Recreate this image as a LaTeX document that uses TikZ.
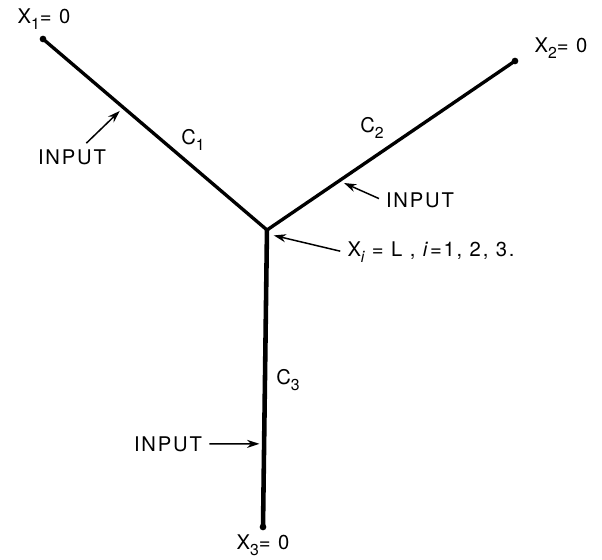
\documentclass[tikz,border=0pt]{standalone}
\usepackage{fontspec}
\setmainfont{TeX Gyre Heros}[LetterSpace=9]
\usetikzlibrary{arrows.meta,calc}
\newcommand{\lowidx}[1]{\raisebox{-.6ex}{\small#1}}

\begin{document}
\begin{tikzpicture}[x=.02cm,y=-.02cm,branch/.style={line width=1.9pt,line join=miter},stem/.style={line width=2.6pt},endpt/.style={circle,fill,inner sep=0pt,minimum size=3.8pt},inarrow/.style={line width=.85pt,-{Stealth[length=7pt,width=4.6pt]},shorten <=2pt,shorten >=1pt},lbl/.style={font=\fontsize{11.5}{13}\selectfont,inner sep=2pt}]
\useasboundingbox(0,0)rectangle(602,560);
\node[endpt](e1)at(43,39){};\node[endpt](e2)at(515,61){};\node[endpt](e3)at(263,527){};\coordinate(j)at(267,230);
\draw[stem]($(j)+(0,-2)$)--(e3.center);\draw[branch](e1.center)--(j)--(e2.center);
\node[lbl](lx1)at(44,19){X\lowidx{1}= 0};\node[lbl](lx2)at(561,48){X\lowidx{2}= 0};\node[lbl](lx3)at(263,545){X\lowidx{3}= 0};
\node[lbl](c1)at(193,140){C\lowidx{1}};\node[lbl](c2)at(372,128){C\lowidx{2}};\node[lbl](c3)at(288,380){C\lowidx{3}};
\coordinate(t1)at($(e1)!.344!(j)$);\coordinate(t2)at($(j)!.3!(e2)$);\coordinate(t3)at($(j)!.72!(e3)$);
\node[lbl](in1)at(72,157){INPUT};\draw[inarrow](in1)--($(t1)+(1,5)$);
\node[lbl](in2)at(420,200){INPUT};\draw[inarrow](in2.west)--($(t2)+(1,3)$);
\node[lbl](in3)at(168,444){INPUT};\draw[inarrow](in3.east)--($(t3)+(-3,0)$);
\node[lbl](lj)at(431,252){X\lowidx{\itshape i} = L , \textit{i}=1, 2, 3.};\draw[inarrow](lj.west)--($(j)+(5,5)$);
\end{tikzpicture}
\end{document}
